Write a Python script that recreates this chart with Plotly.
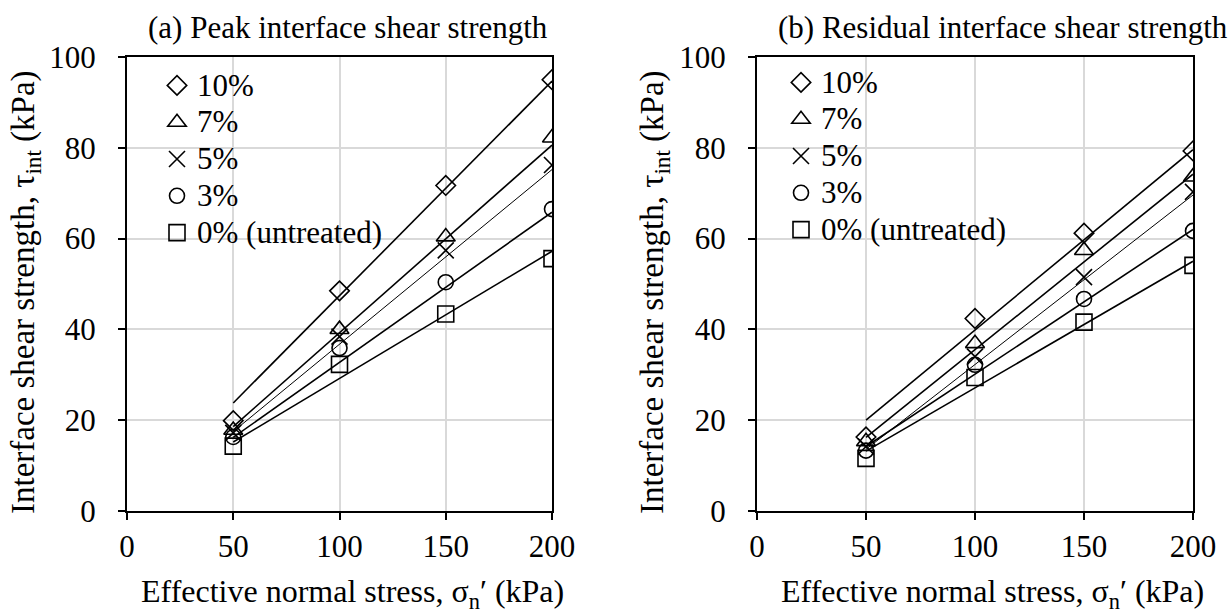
import plotly.graph_objects as go

# ---------------- data ----------------
stress = [50, 100, 150, 200]
series_names = ["10%", "7%", "5%", "3%", "0% (untreated)"]

# (a) Peak interface shear strength (kPa)
peak_10 = [19.9, 48.5, 71.7, 95.0]
peak_7 = [17.8, 40.0, 60.4, 82.2]
peak_5 = [17.2, 38.4, 57.4, 76.2]
peak_3 = [16.3, 35.9, 50.4, 66.5]
peak_0 = [14.3, 32.3, 43.4, 55.6]

# (b) Residual interface shear strength (kPa)
res_10 = [16.3, 42.4, 61.2, 79.3]
res_7 = [15.3, 36.9, 57.4, 73.6]
res_5 = [14.2, 34.0, 51.5, 70.3]
res_3 = [13.3, 32.2, 46.7, 61.7]
res_0 = [11.6, 29.4, 41.6, 54.1]

# linear trend lines: value at 50 and at 200 kPa
fit_x = [50, 200]
peak_fit_10 = [23.8, 94.7]
peak_fit_7 = [18.6, 80.6]
peak_fit_5 = [17.5, 75.2]
peak_fit_3 = [16.2, 65.8]
peak_fit_0 = [15.2, 57.2]

res_fit_10 = [20.0, 79.6]
res_fit_7 = [16.2, 74.2]
res_fit_5 = [13.6, 69.6]
res_fit_3 = [14.2, 62.0]
res_fit_0 = [13.2, 55.0]

x_ticks = [0, 50, 100, 150, 200]
y_ticks = [0, 20, 40, 60, 80, 100]

# ---------------- styling ----------------
FONT = "Liberation Serif"
symbols = ["diamond-open", "triangle-up-open", "x-thin", "circle-open", "square-open"]
msizes = [15, 16.5, 16, 15, 16]
line_widths = [1.6, 1.6, 1.0, 1.6, 1.6]

peak_sets = [peak_10, peak_7, peak_5, peak_3, peak_0]
peak_fits = [peak_fit_10, peak_fit_7, peak_fit_5, peak_fit_3, peak_fit_0]
res_sets = [res_10, res_7, res_5, res_3, res_0]
res_fits = [res_fit_10, res_fit_7, res_fit_5, res_fit_3, res_fit_0]

fig = go.Figure()


def add_panel(sets, fits, xa, ya, legend):
    for name, vals, fit, sym, ms, lw in zip(series_names, sets, fits, symbols, msizes, line_widths):
        fig.add_trace(go.Scatter(
            x=fit_x, y=fit, mode="lines", xaxis=xa, yaxis=ya,
            line=dict(color="black", width=lw), showlegend=False, hoverinfo="skip",
        ))
    for name, vals, fit, sym, ms, lw in zip(series_names, sets, fits, symbols, msizes, line_widths):
        fig.add_trace(go.Scatter(
            x=stress, y=vals, mode="markers", xaxis=xa, yaxis=ya,
            name='<span style="font-size:31px">' + name + "</span>",
            legend=legend,
            marker=dict(symbol=sym, size=ms, color="black",
                        line=dict(color="black", width=1.6)),
        ))


add_panel(peak_sets, peak_fits, "x", "y", "legend")
add_panel(res_sets, res_fits, "x2", "y2", "legend2")

W, H = 1232, 616
# plot-area pixel positions
L1, R1 = 127, 552
L2, R2 = 757, 1193
TOP, BOT = 57, 511


def px(x):
    return x / W


def py(y):
    return (H - y) / H


axis_common = dict(
    showline=True, linecolor="black", linewidth=2, mirror=True,
    showgrid=True, gridcolor="#d9d9d9", gridwidth=1.5,
    ticks="outside", ticklen=7, tickwidth=1.5, tickcolor="black",
    tickfont=dict(family=FONT, size=31, color="black"),
    zeroline=False, automargin=False,
)

fig.update_layout(
    width=W, height=H,
    margin=dict(l=0, r=0, t=0, b=0, autoexpand=False),
    paper_bgcolor="white", plot_bgcolor="white",
    font=dict(family=FONT, color="black", size=29),
    xaxis=dict(domain=[px(L1), px(R1)], range=[0, 200], tickvals=x_ticks, anchor="y",
               **axis_common),
    yaxis=dict(domain=[py(BOT), py(TOP)], range=[0, 100], tickvals=y_ticks, anchor="x",
               ticklabelstandoff=16, **axis_common),
    xaxis2=dict(domain=[px(L2), px(R2)], range=[0, 200], tickvals=x_ticks, anchor="y2",
                **axis_common),
    yaxis2=dict(domain=[py(BOT), py(TOP)], range=[0, 100], tickvals=y_ticks, anchor="x2",
                ticklabelstandoff=16, **axis_common),
    legend=dict(x=px(157), y=py(62), xanchor="left", yanchor="top",
                bgcolor="rgba(0,0,0,0)", font=dict(family=FONT, size=26, color="black"),
                tracegroupgap=0, itemwidth=30),
    legend2=dict(x=px(781), y=py(59), xanchor="left", yanchor="top",
                 bgcolor="rgba(0,0,0,0)", font=dict(family=FONT, size=26, color="black"),
                 tracegroupgap=0, itemwidth=30),
)

title_font = dict(family=FONT, size=31, color="black")
xt_font = dict(family=FONT, size=32, color="black")
yt_font = dict(family=FONT, size=33, color="black")
annotations = [
    dict(text="(a) Peak interface shear strength", x=px(348), y=py(28), font=title_font),
    dict(text="(b) Residual interface shear strength", x=px(1003), y=py(28), font=title_font),
    dict(text="Effective normal stress, σ<sub>n</sub>′ (kPa)", x=px(352), y=py(593), font=xt_font),
    dict(text="Effective normal stress, σ<sub>n</sub>′ (kPa)", x=px(992), y=py(593), font=xt_font),
    dict(text="Interface shear strength, τ<sub>int</sub> (kPa)", x=px(25), y=py(292),
         textangle=-90, font=yt_font),
    dict(text="Interface shear strength, τ<sub>int</sub> (kPa)", x=px(654), y=py(292),
         textangle=-90, font=yt_font),
]
for a in annotations:
    fig.add_annotation(xref="paper", yref="paper", showarrow=False,
                       xanchor="center", yanchor="middle", **a)

fig.write_html("out.html")
